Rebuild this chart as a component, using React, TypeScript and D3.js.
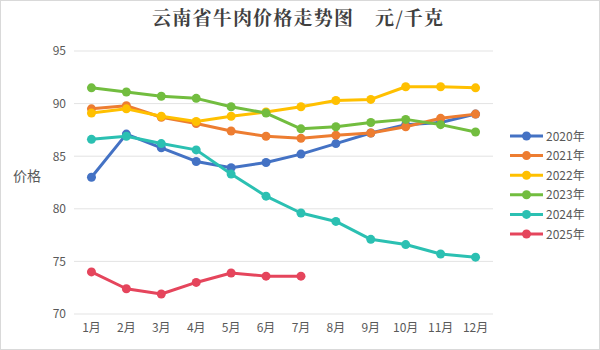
import React, { useEffect, useRef } from "react";
import * as d3 from "d3";

const months = ["1月", "2月", "3月", "4月", "5月", "6月", "7月", "8月", "9月", "10月", "11月", "12月"];
const years = ["2020年", "2021年", "2022年", "2023年", "2024年", "2025年"];
const colors = ["#4472C4", "#ED7D31", "#FFC000", "#72BD3F", "#2BC0B2", "#E5455C"];

const s2020 = [83.0, 87.1, 85.8, 84.5, 83.9, 84.4, 85.2, 86.2, 87.2, 88.0, 88.2, 89.0];
const s2021 = [89.5, 89.8, 88.7, 88.1, 87.4, 86.9, 86.7, 87.0, 87.2, 87.8, 88.6, 89.0];
const s2022 = [89.1, 89.5, 88.8, 88.3, 88.8, 89.2, 89.7, 90.3, 90.4, 91.6, 91.6, 91.5];
const s2023 = [91.5, 91.1, 90.7, 90.5, 89.7, 89.1, 87.6, 87.8, 88.2, 88.5, 88.0, 87.3];
const s2024 = [86.6, 86.9, 86.2, 85.6, 83.3, 81.2, 79.6, 78.8, 77.1, 76.6, 75.7, 75.4];
const s2025 = [74.0, 72.4, 71.9, 73.0, 73.9, 73.6, 73.6];

const seriesValues = [s2020, s2021, s2022, s2023, s2024, s2025];
const yTicks = [70, 75, 80, 85, 90, 95];

const titleMain = "云南省牛肉价格走势图";
const titleUnit = "元/千克";
const yLabel = "价格";

const App = () => {
  const ref = useRef<SVGSVGElement>(null);

  useEffect(() => {
    const width = 600;
    const height = 350;
    const margin = { top: 51, right: 107, bottom: 36, left: 74 };

    const svg = d3.select(ref.current);
    svg.selectAll("*").remove();
    svg.attr("width", width).attr("height", height);

    const font = "'Microsoft YaHei', 'Noto Sans CJK SC', 'Noto Sans', sans-serif";

    svg
      .append("rect")
      .attr("x", 0.5)
      .attr("y", 0.5)
      .attr("width", width - 1)
      .attr("height", height - 1)
      .attr("fill", "#fff")
      .attr("stroke", "#d9d9d9");

    const x = d3
      .scaleBand()
      .domain(months)
      .range([margin.left, width - margin.right]);

    const y = d3
      .scaleLinear()
      .domain([70, 95])
      .range([height - margin.bottom, margin.top]);

    const cx = (i: number) => (x(months[i]) as number) + x.bandwidth() / 2;

    // grid
    svg
      .append("g")
      .selectAll("line")
      .data(yTicks)
      .join("line")
      .attr("x1", margin.left)
      .attr("x2", width - margin.right)
      .attr("y1", (d) => y(d))
      .attr("y2", (d) => y(d))
      .attr("stroke", "#e3e3e3")
      .attr("stroke-width", 1);

    const yAxis = d3.axisLeft(y).tickValues(yTicks).tickSize(0).tickPadding(8);
    svg
      .append("g")
      .attr("transform", `translate(${margin.left},0)`)
      .call(yAxis)
      .call((g) => g.select(".domain").remove())
      .selectAll("text")
      .attr("fill", "#595959")
      .style("font-family", font)
      .style("font-size", "12px");

    const xAxis = d3.axisBottom(x).tickSize(0).tickPadding(9);
    svg
      .append("g")
      .attr("transform", `translate(0,${height - margin.bottom})`)
      .call(xAxis)
      .call((g) => g.select(".domain").remove())
      .selectAll("text")
      .attr("fill", "#595959")
      .style("font-family", font)
      .style("font-size", "12px");

    const line = d3
      .line<number>()
      .x((d, i) => cx(i))
      .y((d) => y(d));

    seriesValues.forEach((vals, k) => {
      const g = svg.append("g");
      g.append("path")
        .datum(vals)
        .attr("d", line)
        .attr("fill", "none")
        .attr("stroke", colors[k])
        .attr("stroke-width", 3)
        .attr("stroke-linejoin", "round");
      g.selectAll("circle")
        .data(vals)
        .join("circle")
        .attr("cx", (d, i) => cx(i))
        .attr("cy", (d) => y(d))
        .attr("r", 4.5)
        .attr("fill", colors[k]);
    });

    // title (two pieces with a wide gap, as in the original)
    const titleStyle = (t: any) =>
      t
        .attr("y", 25)
        .attr("fill", "#404040")
        .attr("lengthAdjust", "spacing")
        .style("font-family", "'Noto Serif CJK SC', 'Noto Sans CJK SC', serif")
        .style("font-size", "19px")
        .style("font-weight", "bold");
    svg.append("text").attr("x", 152).attr("textLength", 201).call(titleStyle).text(titleMain);
    svg.append("text").attr("x", 375).attr("textLength", 68).call(titleStyle).text(titleUnit);

    svg
      .append("text")
      .attr("x", 13)
      .attr("y", 181)
      .attr("fill", "#595959")
      .style("font-family", font)
      .style("font-size", "14px")
      .text(yLabel);

    // legend
    const legend = svg.append("g").attr("transform", `translate(510,136)`);
    years.forEach((name, i) => {
      const g = legend.append("g").attr("transform", `translate(0,${i * 19.6})`);
      g.append("line")
        .attr("x1", 0)
        .attr("x2", 33)
        .attr("stroke", colors[i])
        .attr("stroke-width", 3);
      g.append("circle").attr("cx", 16.5).attr("r", 4.5).attr("fill", colors[i]);
      g.append("text")
        .attr("x", 36)
        .attr("y", 4.5)
        .attr("fill", "#595959")
        .style("font-family", font)
        .style("font-size", "12px")
        .text(name);
    });
  }, []);

  return (
    <div style={{ position: "absolute", left: 0, top: 0 }}>
      <svg ref={ref}></svg>
    </div>
  );
};

export default App;
